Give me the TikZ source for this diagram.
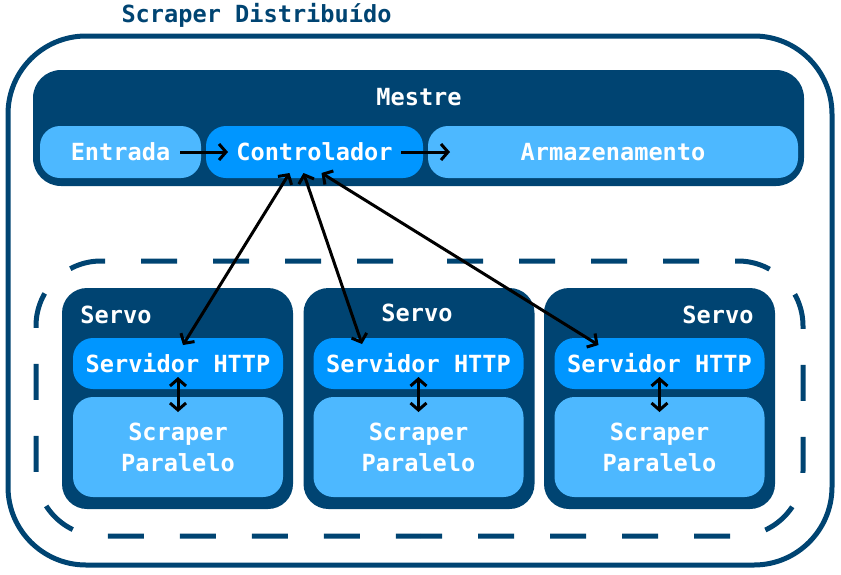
\documentclass[tikz,border=0pt]{standalone}
\usepackage{fontspec}
\setmonofont{DejaVu Sans Mono}
\usetikzlibrary{arrows.meta,calc}
\definecolor{navy}{RGB}{0,68,114}
\definecolor{midblue}{RGB}{0,150,255}
\definecolor{lightblue}{RGB}{77,184,255}
\begin{document}
\begin{tikzpicture}[x=1pt,y=-1pt,
  txt/.style={font=\fontsize{23.6}{31}\selectfont\ttfamily\bfseries, text=white},
  blk/.style={draw=none, inner sep=0pt, outer sep=0pt},
  mestrebox/.style={blk, fill=navy, rounded corners=28pt},
  servobox/.style={blk, fill=navy, rounded corners=25pt},
  lightbox/.style={blk, txt, fill=lightblue, rounded corners=20pt, align=center},
  midbox/.style={blk, txt, fill=midblue, rounded corners=20pt},
  tipb/.tip={Straight Barb[length=7pt,width=16pt,line width=3pt]},
  conn/.style={draw=black, line width=3pt, -tipb},
  dconn/.style={draw=black, line width=3pt, tipb-tipb},
  groupline/.style={navy, line width=5pt, rounded corners=65pt, dash pattern=on 36pt off 36pt, dash phase=45pt}
]
\useasboundingbox (0,0) rectangle (841,574);
% outer frame
\draw[navy, line width=5pt, rounded corners=78pt] (8,36) rectangle (832,565);
\node[txt, text=navy] (title) at (256.5,15) {Scraper Distribuído};
% Mestre
\node[mestrebox, minimum width=771pt, minimum height=116pt] (mestre) at (418.5,128) {};
\node[txt] (mlbl) at (419,97) {Mestre};
\node[lightbox, minimum width=161pt, minimum height=52pt] (ent) at (120.5,152) {Entrada};
\node[midbox, minimum width=217pt, minimum height=52pt] (ctl) at (314.5,152) {Controlador};
\node[lightbox, minimum width=370pt, minimum height=52pt] (arm) at (613,152) {Armazenamento};
\draw[conn, shorten <=-21pt, shorten >=-22pt] (ent.east) -- (ctl.west);
\draw[conn, shorten <=-22pt, shorten >=-22pt] (ctl.east) -- (arm.west);
% dashed group
\draw[groupline] (420,261) -- (803,261) -- (803,536) -- (420,536);
\draw[groupline] (420,261) -- (36,261) -- (36,536) -- (420,536);
% Servos
\foreach \i/\cx/\hx in {1/177.5/178, 2/419/418.5, 3/659.5/659.5}{
  \node[servobox, minimum width=231pt, minimum height=221pt] (s\i) at (\cx,398.5) {};
  \node[midbox, minimum width=210pt, minimum height=51pt] (h\i) at (\hx,363.5) {Servidor HTTP};
  \node[lightbox, minimum width=210pt, minimum height=100pt] (p\i) at (\hx,447) {Scraper\\Paralelo};
  \draw[dconn, shorten <=-12pt, shorten >=-15pt] (h\i.south) -- (p\i.north);
}
\node[txt] (sl1) at (116,315) {Servo};
\node[txt] (sl2) at (417,313) {Servo};
\node[txt] (sl3) at (718,315) {Servo};
% long connectors
\draw[dconn] ($(ctl.south)+(-25,-5)$) -- ($(h1.north)+(5,7)$);
\draw[dconn] ($(ctl.south)+(-11,-5)$) -- ($(h2.north)+(-56.5,6)$);
\draw[dconn] ($(ctl.south)+(7,-5)$) -- ($(h3.north)+(-61,7)$);
\end{tikzpicture}
\end{document}
